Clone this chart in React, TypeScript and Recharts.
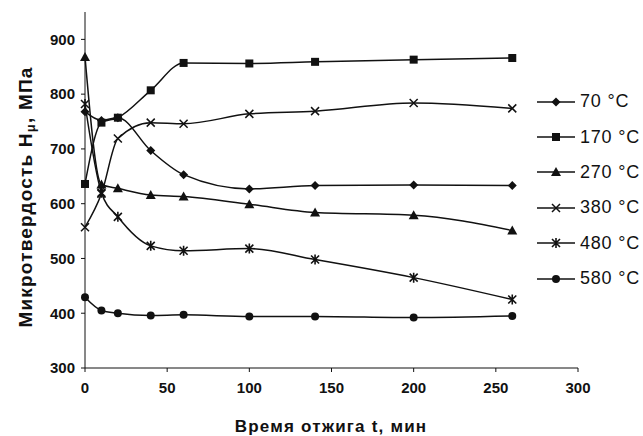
import React from "react";
import { LineChart, Line, XAxis, YAxis } from "recharts";

const times = [0, 10, 20, 40, 60, 100, 140, 200, 260];
const s70 = [768, 752, 757, 697, 653, 627, 633, 634, 633];
const s170 = [636, 748, 757, 807, 857, 856, 859, 863, 866];
const s270 = [868, 635, 628, 616, 613, 599, 584, 579, 551];
const s380 = [557, 618, 719, 748, 746, 764, 769, 784, 774];
const s480 = [782, 620, 576, 523, 514, 518, 498, 465, 425];
const s580 = [429, 405, 400, 396, 397, 394, 394, 392, 395];
const xTicks = [0, 50, 100, 150, 200, 250, 300];
const yTicks = [300, 400, 500, 600, 700, 800, 900];

const seriesDefs = [
  { key: "s70", name: "70 °C", values: s70, shape: "diamond" },
  { key: "s170", name: "170 °C", values: s170, shape: "square" },
  { key: "s270", name: "270 °C", values: s270, shape: "triangle" },
  { key: "s380", name: "380 °C", values: s380, shape: "x" },
  { key: "s480", name: "480 °C", values: s480, shape: "asterisk" },
  { key: "s580", name: "580 °C", values: s580, shape: "circle" },
];

const data = times.map((t, i) => {
  const row: any = { t };
  seriesDefs.forEach((s) => (row[s.key] = s.values[i]));
  return row;
});

const INK = "#111";

function Marker({ shape, cx, cy }: { shape: string; cx: number; cy: number }) {
  switch (shape) {
    case "diamond":
      return <path d={`M${cx},${cy - 4.5}L${cx + 4.5},${cy}L${cx},${cy + 4.5}L${cx - 4.5},${cy}Z`} fill={INK} />;
    case "square":
      return <rect x={cx - 4} y={cy - 4} width={8} height={8} fill={INK} />;
    case "triangle":
      return <path d={`M${cx},${cy - 5}L${cx + 5},${cy + 4}L${cx - 5},${cy + 4}Z`} fill={INK} />;
    case "x":
      return (
        <path
          d={`M${cx - 4},${cy - 4}L${cx + 4},${cy + 4}M${cx - 4},${cy + 4}L${cx + 4},${cy - 4}`}
          stroke={INK}
          strokeWidth={1.5}
          fill="none"
        />
      );
    case "asterisk":
      return (
        <path
          d={`M${cx - 4},${cy - 4}L${cx + 4},${cy + 4}M${cx - 4},${cy + 4}L${cx + 4},${cy - 4}M${cx},${cy - 5}L${cx},${cy + 5}`}
          stroke={INK}
          strokeWidth={1.6}
          fill="none"
        />
      );
    default:
      return <circle cx={cx} cy={cy} r={4} fill={INK} />;
  }
}

const makeDot = (shape: string) => (props: any) => {
  const { cx, cy, index } = props;
  if (cx == null || cy == null) return <g key={index} />;
  return (
    <g key={index}>
      <Marker shape={shape} cx={cx} cy={cy} />
    </g>
  );
};

const FONT = "'Liberation Sans', Arial, sans-serif";

const YLabel = (props: any) => {
  const cx = 25;
  const cy = 197;
  return (
    <text
      x={cx}
      y={cy}
      transform={`rotate(-90, ${cx}, ${cy})`}
      textAnchor="middle"
      dominantBaseline="central"
      fontFamily={FONT}
      fontWeight="bold"
      fontSize={19}
      letterSpacing={1.2}
      fill={INK}
    >
      Микротвердость H
      <tspan fontSize={13} dy={5}>μ</tspan>
      <tspan dy={-5}>, МПа</tspan>
    </text>
  );
};

const XLabel = (props: any) => (
  <text
    x={331}
    y={426}
    textAnchor="middle"
    dominantBaseline="central"
    fontFamily={FONT}
    fontWeight="bold"
    fontSize={17}
    letterSpacing={1.2}
    fill={INK}
  >
    Время отжига t, мин
  </text>
);

export default function App() {
  return (
    <div style={{ position: "absolute", left: 0, top: 0, width: 643, height: 436, background: "#fff" }}>
      <LineChart
        width={643}
        height={436}
        data={data}
        margin={{ top: 12, right: 65, bottom: 0, left: 0 }}
      >
        <XAxis
          dataKey="t"
          type="number"
          domain={[0, 300]}
          ticks={xTicks}
          tickSize={4}
          tickMargin={10}
          height={68}
          stroke={INK}
          tick={{ fill: INK, fontSize: 15, fontWeight: "bold", fontFamily: FONT }}
          label={<XLabel />}
        />
        <YAxis
          type="number"
          domain={[300, 950]}
          ticks={yTicks}
          tickSize={4}
          tickMargin={6}
          width={85}
          stroke={INK}
          tick={{ fill: INK, fontSize: 15, fontWeight: "bold", fontFamily: FONT }}
          label={<YLabel />}
        />
        {seriesDefs.map((s) => (
          <Line
            key={s.key}
            dataKey={s.key}
            name={s.name}
            type="monotone"
            stroke={INK}
            strokeWidth={1.5}
            dot={makeDot(s.shape)}
            activeDot={false}
            isAnimationActive={false}
          />
        ))}
      </LineChart>
      <div style={{ position: "absolute", left: 536, top: 84, fontFamily: FONT, fontSize: 18, letterSpacing: 0.8, color: INK }}>
        {seriesDefs.map((s) => (
          <div key={s.key} style={{ display: "flex", alignItems: "center", height: 35.4 }}>
            <svg width={40} height={14} style={{ marginRight: 4 }}>
              <line x1={1} y1={7} x2={39} y2={7} stroke={INK} strokeWidth={1.5} />
              <Marker shape={s.shape} cx={20} cy={7} />
            </svg>
            <span>{s.name}</span>
          </div>
        ))}
      </div>
    </div>
  );
}
